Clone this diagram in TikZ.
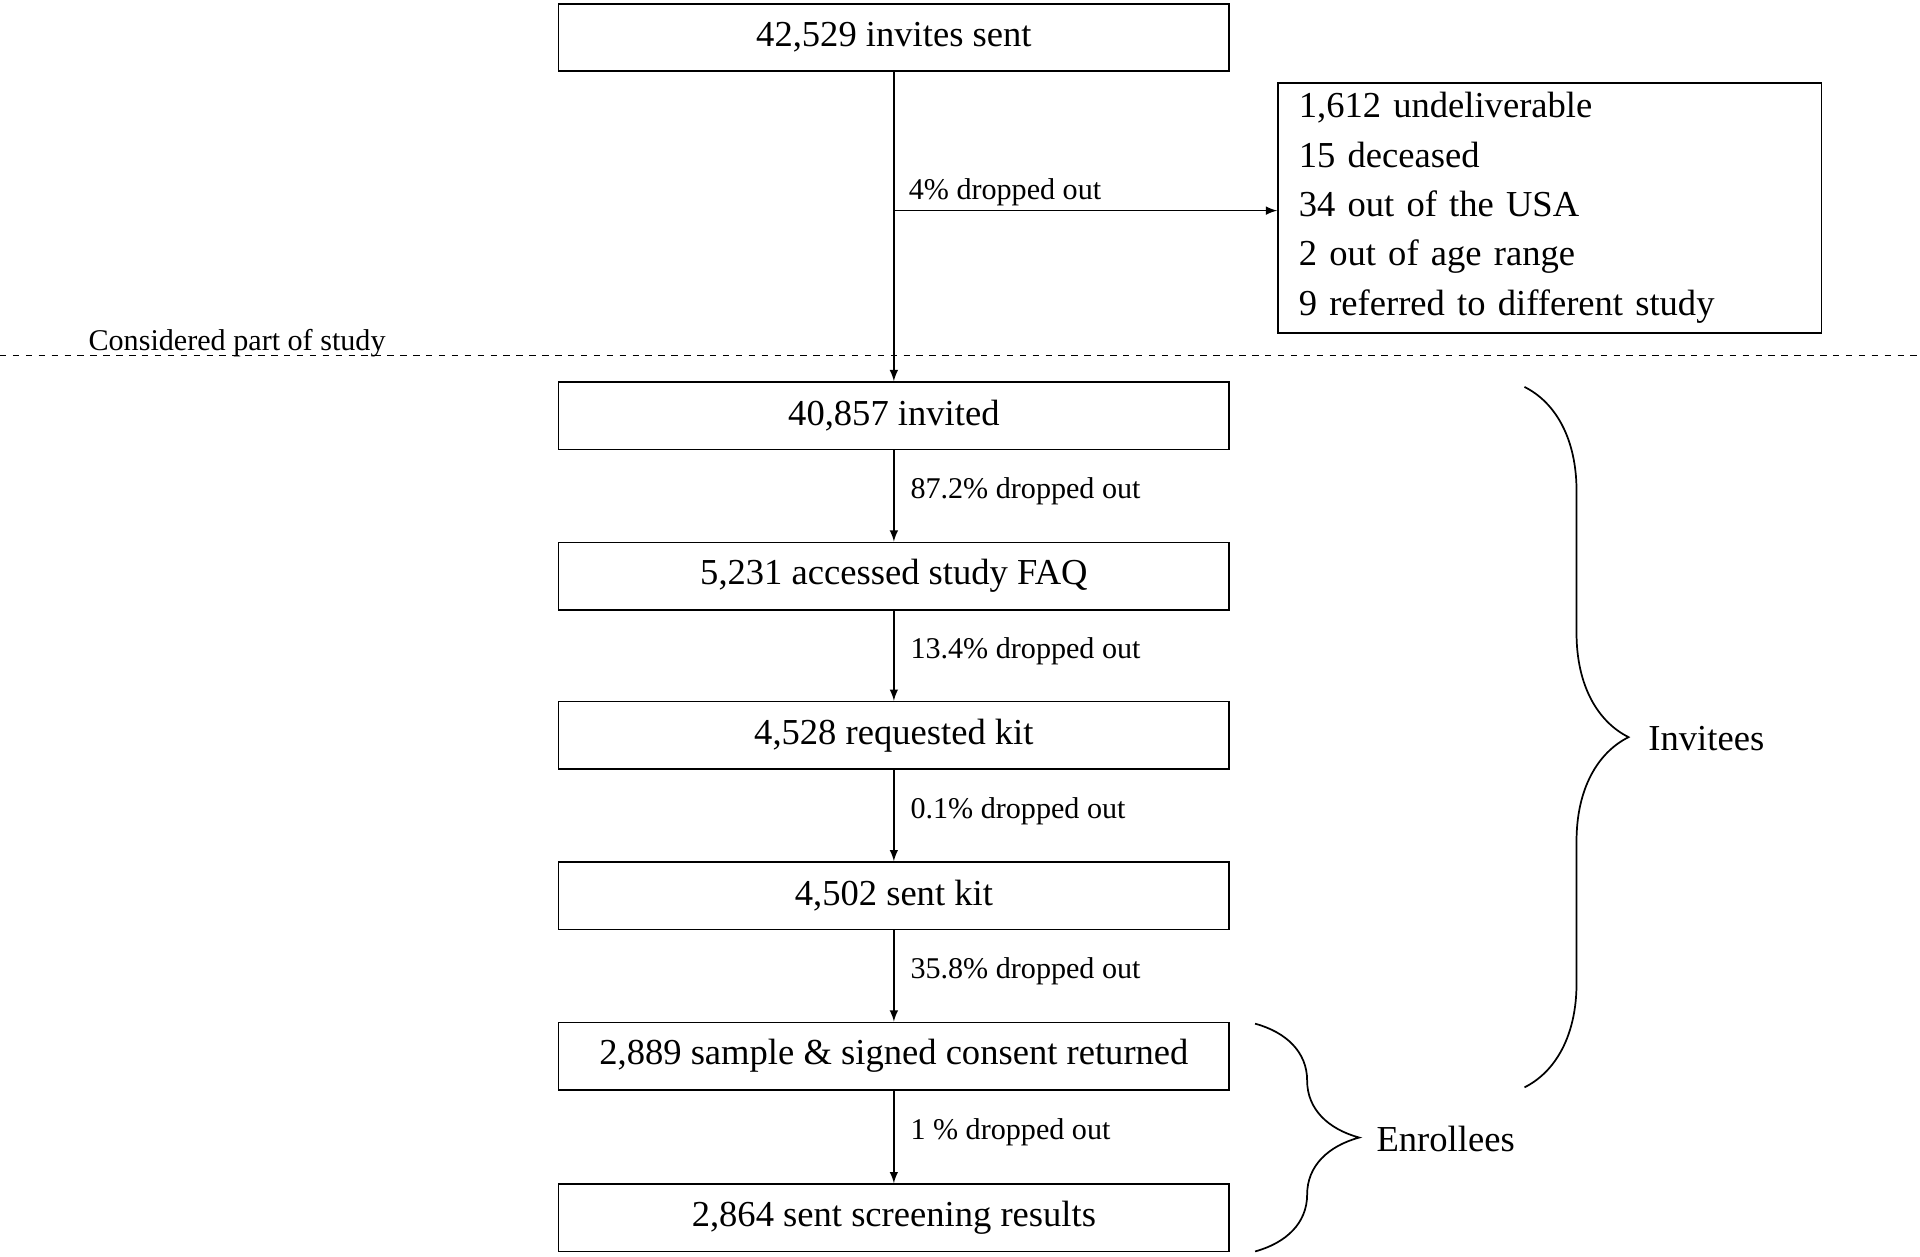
\documentclass[tikz,border=0pt]{standalone}
\usepackage{fontspec}
\setmainfont{Liberation Serif}
\usetikzlibrary{decorations.pathreplacing}
\tikzset{
  stagebox/.style={draw, thick, minimum width=10.96cm, minimum height=1.1cm, font=\fontsize{17}{20}\selectfont},
  droplabel/.style={anchor=west, font=\fontsize{14}{17}\selectfont},
  grouplabel/.style={anchor=west, font=\fontsize{17}{20}\selectfont},
  groupbrace/.style={decorate, decoration={brace, amplitude=1.7cm}},
}
\begin{document}
\begin{tikzpicture}[>=latex, x=0.02cm, y=-0.02cm]
\useasboundingbox (0,0) rectangle (1568,1026);

% stages of the study
\node (sent) [stagebox] at (730,30.5) {42,529 invites sent};
\node (invited) [stagebox] at (730,339.5) {40,857 invited};
\node (faq) [stagebox] at (730,470.5) {5,231 accessed study FAQ};
\node (req) [stagebox] at (730,600.5) {4,528 requested kit};
\node (kit) [stagebox] at (730,731.5) {4,502 sent kit};
\node (ret) [stagebox] at (730,862.5) {2,889 sample \& signed consent returned};
\node (res) [stagebox] at (730,994.5) {2,864 sent screening results};

% excluded before the study
\node (excl) [draw, thick, anchor=north west, minimum width=8.88cm, minimum height=4.08cm,
  align=left, text width=8.2cm, font=\fontsize{17}{23}\selectfont] at (1043,67)
  {1,612 undeliverable\\15 deceased\\34 out of the USA\\2 out of age range\\9 referred to different study};

\draw[dashed] (0,290) -- (1568,290);
\node (part) [anchor=south west, inner sep=0pt, font=\fontsize{14}{17}\selectfont] at (72,292) {Considered part of study};

% arrows between stages
\coordinate (split) at (730,172);
\draw[->, thick] (sent) -- (invited);
\draw[->, thick] (split) -- (excl.west |- split);
\node [droplabel] at (736,157) {4\% dropped out};
\foreach \s / \d / \t in {invited/faq/87.2\%, faq/req/13.4\%, req/kit/0.1\%, kit/ret/35.8\%, ret/res/1 \%} {
  \draw[->, thick] (\s) -- node[droplabel, pos=0.45, xshift=4pt] {\t{} dropped out} (\d);
}

% group braces
\coordinate (invtop) at (1245,316);
\coordinate (invbot) at (1245,888);
\coordinate (enrtop) at (1025,836);
\coordinate (enrbot) at (1025,1022);
\draw[groupbrace, thick] (invtop) -- (invbot);
\draw[groupbrace, thick] (enrtop) -- (enrbot);
\node (invitees) [grouplabel] at (1340,603) {Invitees};
\node (enrollees) [grouplabel] at (1118,930) {Enrollees};
\end{tikzpicture}
\end{document}
